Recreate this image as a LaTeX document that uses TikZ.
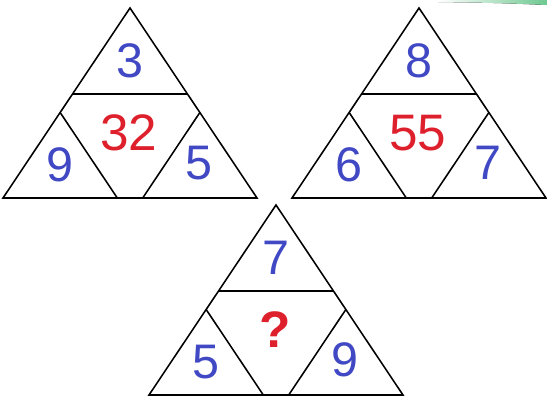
\documentclass[tikz,border=0pt]{standalone}
\usepackage{fontspec}
\setmainfont{Liberation Sans}
\usepackage{xcolor}
\usepackage{tikz}
\usetikzlibrary{calc}
\definecolor{numblue}{RGB}{64,72,196}
\definecolor{numred}{RGB}{222,32,44}
\definecolor{swooshgreen}{RGB}{110,200,145}
\tikzset{
  edge/.style={line width=2.2pt, color=black, line join=miter},
  num/.style={text=numblue, inner sep=0pt, font=\fontsize{69}{72}\selectfont},
  total/.style={text=numred, inner sep=0pt, font=\fontsize{73}{76}\selectfont},
  swoosh/.style={left color=white, right color=swooshgreen, draw=none}
}
\begin{document}
\begin{tikzpicture}[x=0.05cm, y=-0.05cm]
  \useasboundingbox (0,0) rectangle (547,396);

  % Green mark at the top edge
  \fill[swoosh] (438,0) -- (547,0) -- (547,5) .. controls (500,3) .. (438,2) -- cycle;

  % Three triangles: name / centre x / base y / top / left / right / middle
  \foreach \n/\cx/\by/\top/\lft/\rgt/\mid in
      {a/130/198/3/9/5/32, b/419/198/8/6/7/55, c/276/395/7/5/9/{\textbf{?}}} {
    \coordinate (\n-L) at (\cx-127,\by);
    \coordinate (\n-R) at (\cx+127,\by);
    \coordinate (\n-A) at (\cx,\by-190);
    \coordinate (\n-tl) at ($(\n-L)!0.547!(\n-A)$);
    \coordinate (\n-tr) at ($(\n-R)!0.547!(\n-A)$);
    \coordinate (\n-ml) at ($(\n-L)!0.45!(\n-A)$);
    \coordinate (\n-mr) at ($(\n-R)!0.45!(\n-A)$);
    \coordinate (\n-bl) at ($(\n-L)!0.45!(\n-R)$);
    \coordinate (\n-br) at ($(\n-R)!0.45!(\n-L)$);

    % Outline and inner cuts
    \draw[edge] (\n-L) -- (\n-A) -- (\n-R) -- cycle;
    \draw[edge] (\n-tl) -- (\n-tr);
    \draw[edge] (\n-ml) -- (\n-bl);
    \draw[edge] (\n-mr) -- (\n-br);

    % Numbers
    \node[num] (\n-top) at (\cx,\by-137) {\top};
    \node[num] (\n-left) at (\cx-70,\by-33) {\lft};
    \node[num] (\n-right) at (\cx+69,\by-35) {\rgt};
    \node[total] (\n-mid) at (\cx-1,\by-65) {\mid};
  }
\end{tikzpicture}
\end{document}
